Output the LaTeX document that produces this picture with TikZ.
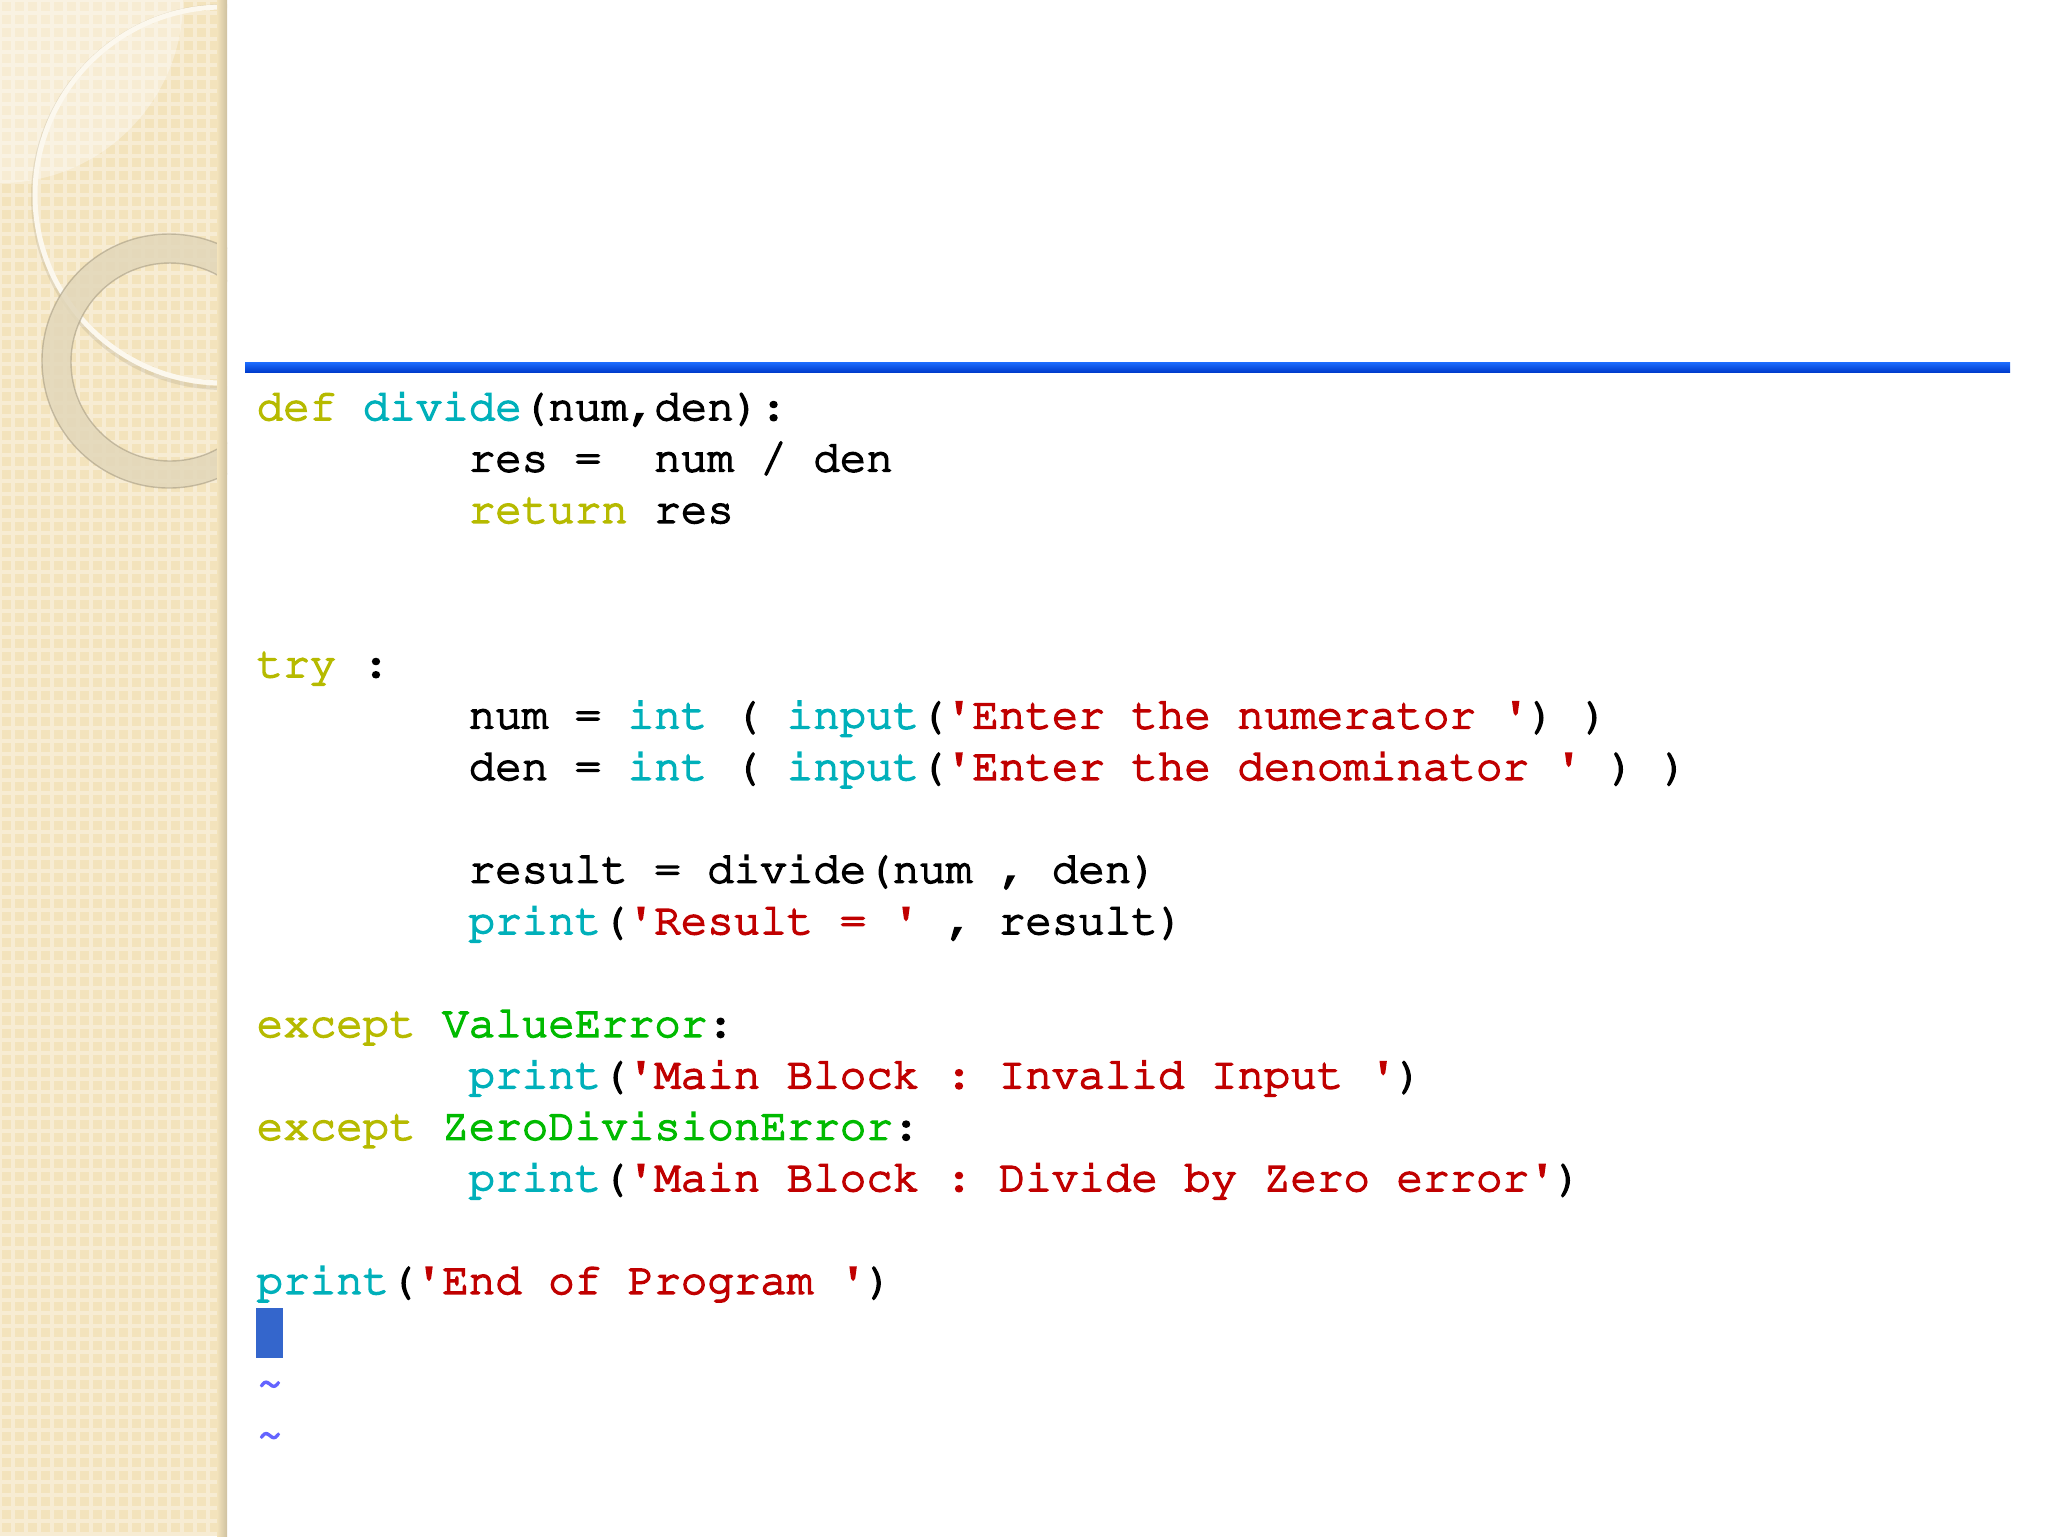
\documentclass[tikz,border=0pt]{standalone}
\usepackage[T1]{fontenc}

\definecolor{kwcol}{RGB}{182,186,0}
\definecolor{fncol}{RGB}{0,176,186}
\definecolor{strcol}{RGB}{192,0,0}
\definecolor{errcol}{RGB}{0,186,0}
\definecolor{tildecol}{RGB}{100,100,255}
\definecolor{cursorcol}{RGB}{52,102,204}
\definecolor{sidecol}{RGB}{243,227,188}
\definecolor{ringcol}{RGB}{226,215,186}
\definecolor{bartop}{RGB}{30,110,255}
\definecolor{barbot}{RGB}{0,60,205}

% Courier, made a little heavier (stroke + fill)
\newcommand{\codefont}{\fontfamily{pcr}\fontsize{12.57pt}{15pt}\selectfont\frenchspacing\special{pdf:literal direct 2 Tr 0.45 w}}
\newcommand{\kw}[1]{\textcolor{kwcol}{#1}}
\newcommand{\fn}[1]{\textcolor{fncol}{#1}}
\newcommand{\pystr}[1]{\textcolor{strcol}{#1}}
\newcommand{\pyerr}[1]{\textcolor{errcol}{#1}}
\newcommand{\q}{\textquotesingle}

\tikzset{
  codeline/.style={anchor=base west, inner sep=0pt, font=\codefont},
}

\begin{document}
\begin{tikzpicture}[x=0.1mm, y=-0.1mm]
				\useasboundingbox (0,0) rectangle (2048,1536);
				
				% side panel
				\begin{scope}
				\clip (0,0) rectangle (227,1536);
				\fill[sidecol] (0,0) rectangle (227,1536);
				\draw[white, opacity=.35, line width=1pt, step=1.3mm] (0,1536) grid (227,0);
				\fill[white, opacity=.35] (0,0) -- (183,0) arc[start angle=0, end angle=90, radius=183] -- cycle;
				\draw[sidecol!70!black, opacity=.25, line width=.4mm] (224,197) circle[radius=191];
				\draw[white!75!sidecol, line width=.5mm] (223,195) circle[radius=188];
				\fill[ringcol, opacity=.85, even odd rule] (169,361) circle[radius=127] (170,362) circle[radius=99];
				\draw[sidecol!60!black, opacity=.45, line width=.4pt] (169,361) circle[radius=127] (170,362) circle[radius=99];
				\shade[left color=sidecol, right color=sidecol!85!black] (217,0) rectangle (227,1536);
				\end{scope}
				
				% title bar
				\shade[top color=bartop, bottom color=barbot] (245,362) rectangle (2010,372);
				
				% code
				\node[codeline] (def) at (256,420) {\kw{def} \fn{divide}(num,den):};
				\node[codeline] (res) at (468,471.4) {res =\ \ num / den};
				\node[codeline] (ret) at (468,522.8) {\kw{return} res};
				
				\node[codeline] (try) at (256,677) {\kw{try} :};
				\node[codeline] (num) at (468,728.4) {num = \fn{int} ( \fn{input}(\pystr{\q Enter the numerator \q}) )};
				\node[codeline] (den) at (468,779.8) {den = \fn{int} ( \fn{input}(\pystr{\q Enter the denominator \q} ) )};
				
				\node[codeline] (result) at (468,882.6) {result = divide(num , den)};
				\node[codeline] (printres) at (468,934) {\fn{print}(\pystr{\q Result = \q} , result)};
				
				\node[codeline] (exval) at (256,1036.8) {\kw{except} \pyerr{ValueError}:};
				\node[codeline] (printval) at (468,1088.2) {\fn{print}(\pystr{\q Main Block : Invalid Input \q})};
				\node[codeline] (exzero) at (256,1139.6) {\kw{except} \pyerr{ZeroDivisionError}:};
				\node[codeline] (printzero) at (468,1191) {\fn{print}(\pystr{\q Main Block : Divide by Zero error\q})};
				
				\node[codeline] (printend) at (256,1293.8) {\fn{print}(\pystr{\q End of Program \q})};
				
				% cursor and empty lines
				\fill[cursorcol] (256,1308) rectangle (283,1358);
				\node[codeline, text=tildecol] (tildeA) at (256,1396.6) {\textasciitilde};
				\node[codeline, text=tildecol] (tildeB) at (256,1448) {\textasciitilde};
\end{tikzpicture}
\end{document}
